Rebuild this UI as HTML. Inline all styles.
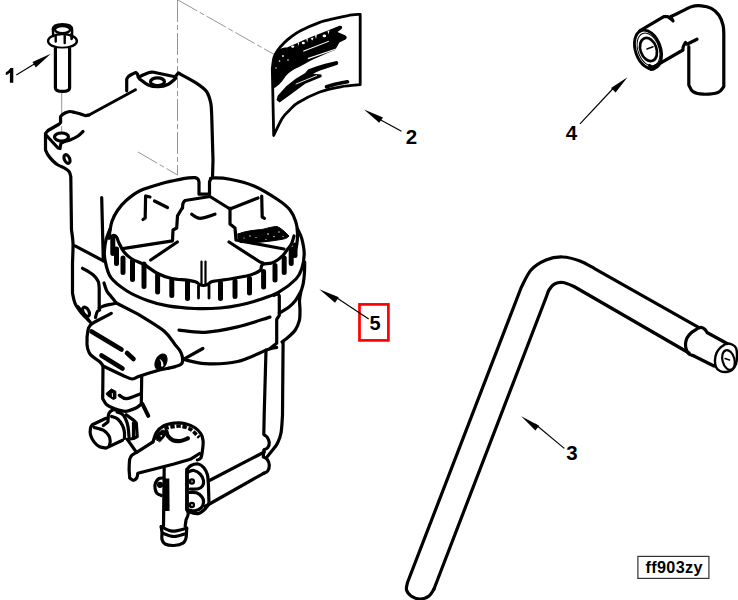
<!DOCTYPE html>
<html><head><meta charset="utf-8">
<style>
html,body{margin:0;padding:0;background:#fff;}
body{width:738px;height:600px;overflow:hidden;position:relative;}
svg{position:absolute;left:0;top:0;}
.t{font-family:"Liberation Sans",sans-serif;font-weight:bold;fill:#000;}
</style></head><body>
<svg width="738" height="600" viewBox="0 0 738 600">
<!-- thin dashed construction lines -->
<g fill="none" stroke="#8a8a8a" stroke-width="0.9" stroke-dasharray="22,3,5,3">
<path d="M177.5,0 L177.5,175"/>
<path d="M178,0 L275,55"/>
<path d="M138,152 L177.5,175"/>
<path d="M61.7,93 L61.7,132"/>
</g>
<g fill="none" stroke="#000" stroke-width="3.2" stroke-linecap="round" stroke-linejoin="round">
<!-- BOLT part 1 -->
<g stroke-width="2.4">
<ellipse cx="62.5" cy="29.6" rx="7.6" ry="3.6"/>
<path d="M52.9,29.5 C53,25.5 58,24.2 62.5,24.2 C67,24.2 72,25.5 72.1,29.5 L72.1,38"/>
<path d="M52.9,29.5 L53.2,36"/>
<ellipse cx="62.5" cy="41" rx="14.4" ry="6.9"/>
</g>
<path d="M55.7,36.5 v5 M64.7,36 v7 M71.5,34 v5" stroke-width="2.4"/>
<path d="M55.4,48.5 L55.4,88 C55.4,92.5 69.6,92.5 69.6,88 L69.6,48.5" fill="#fff"/>


<!-- BRACKET -->
<path d="M135.5,89.7 L89.0,115.0" stroke-width="2.9"/>
<path d="M89.0,115.0  C88.3,115.1 86.7,115.8 85.0,115.5 C83.3,115.2 80.7,114.0 79.0,113.5 C77.3,113.0 76.5,112.8 75.0,112.5 C73.5,112.2 71.7,111.4 70.0,111.5 C68.3,111.6 66.5,112.2 65.0,113.0 C63.5,113.8 61.8,115.0 61.0,116.0 C60.2,117.0 60.6,117.9 60.5,119.0 C60.4,120.1 60.8,121.6 60.5,122.5 C60.2,123.4 58.8,124.2 58.5,124.5 L48.0,130.5 L45.5,133.5 L45.5,150.0 C45.9,150.8 46.8,153.2 48.0,155.0 C49.2,156.8 51.3,159.3 53.0,161.0 C54.7,162.7 56.0,163.8 58.0,165.0 C60.0,166.2 63.1,167.2 65.0,168.3 C66.9,169.4 68.2,170.3 69.2,171.7 C70.2,173.1 70.5,175.9 70.8,176.7 L71.5,230.0 C71.8,232.2 72.8,237.5 73.0,243.0 C73.2,248.5 72.6,259.7 72.5,263.0 L72.5,293.0 C72.9,294.7 73.5,299.9 75.0,303.3 C76.5,306.7 79.5,310.5 81.7,313.3 C83.9,316.1 87.2,318.9 88.3,320.0"/>
<path d="M126.7,90.8 L126.7,79.2 C127.0,78.8 127.5,77.5 128.3,76.7 C129.1,75.9 130.2,75.2 131.5,74.5 C132.8,73.8 135.1,72.8 135.8,72.5 C136.1,72.8 137.1,73.4 137.5,74.2 C137.9,75.0 138.2,77.0 138.3,77.5 C139.1,77.1 141.2,75.8 143.0,75.0 C144.8,74.2 147.6,73.0 149.2,72.5 C150.8,72.0 151.9,72.1 152.5,72.0 L175.0,76.7 L178.3,73.0 C181.4,74.7 192.0,80.2 196.7,83.3 C201.4,86.4 204.3,88.4 206.7,91.7 C209.0,95.0 210.0,99.4 210.8,103.3 C211.6,107.2 211.5,113.0 211.7,115.0 L213.0,160.0 L212.5,178.0"/>
<path d="M139.5,79.0 C141.0,80.0 145.2,83.7 148.3,85.0 C151.4,86.3 155.0,86.8 158.3,86.7 C161.6,86.6 165.4,85.6 168.3,84.2 C171.2,82.8 174.6,79.3 175.8,78.3"/>
<ellipse cx="157.5" cy="81.7" rx="7" ry="3.8"/>
<path d="M46.0,135.0 L58.0,148.0 L60.0,148.5 L61.0,143.0 C61.7,142.8 63.5,142.0 65.0,141.5 C66.5,141.0 67.8,140.9 70.0,140.0 C72.2,139.1 75.8,137.4 78.0,136.0 C80.2,134.6 82.2,132.2 83.0,131.5"/>
<ellipse cx="61.5" cy="137" rx="7" ry="4"/>
<ellipse cx="67" cy="159" rx="2.6" ry="4.6" transform="rotate(-25 67 159)"/>
<path d="M75.0,245.8 L103.3,260.8"/>
<path d="M101.7,197.5 L103.3,260.8"/>
<path d="M82.5,268.3 C84.3,269.4 90.7,272.8 93.3,275.0 C95.9,277.2 97.3,279.5 98.3,281.7 C99.3,283.9 99.0,287.2 99.2,288.3 L99.2,308.3"/>

<!-- DIAL face -->
<path d="M109.0,238.0 C109.2,236.8 109.5,233.5 110.0,230.7 C110.5,227.9 110.8,224.6 112.0,221.3 C113.2,218.0 114.8,214.2 117.3,210.7 C119.8,207.1 122.9,203.3 126.7,200.0 C130.5,196.7 134.4,193.4 140.0,190.7 C145.6,188.0 154.7,185.6 160.0,184.0 C165.3,182.4 167.8,181.9 172.0,181.0 C176.2,180.1 181.2,178.9 185.0,178.3 C188.8,177.7 192.9,177.6 194.5,177.5 C195.1,177.7 197.1,178.1 197.8,178.8 C198.6,179.6 198.8,181.5 199.0,182.0 L199.0,194.2 L209.5,194.2 L209.5,182.0 C209.7,181.6 210.0,180.2 210.5,179.5 C211.0,178.8 209.2,178.1 212.5,178.0 C215.8,177.9 223.1,177.9 230.0,179.2 C236.9,180.5 245.9,182.5 254.0,186.0 C262.1,189.5 272.3,196.0 278.3,200.0 C284.3,204.0 287.1,206.4 290.0,210.0 C292.9,213.6 294.6,217.8 295.8,221.7 C297.1,225.6 297.4,229.4 297.5,233.3 C297.6,237.2 297.3,241.4 296.7,245.0 C296.1,248.6 294.4,253.3 294.0,255.0"/>
<!-- outer ring lower edge -->
<path d="M110.0,229.0 C109.3,230.8 106.9,236.5 106.0,240.0 C105.1,243.5 104.7,246.7 104.5,250.0 C104.3,253.3 104.0,255.4 105.0,260.0 C106.0,264.6 107.1,272.2 110.8,277.4 C114.5,282.6 120.9,287.1 127.0,291.0 C133.1,294.9 140.6,298.0 147.4,300.5 C154.2,303.0 160.0,304.6 167.8,305.9 C175.7,307.2 185.8,308.1 194.5,308.5 C203.2,308.9 212.4,308.6 220.0,308.0 C227.6,307.4 233.5,306.4 240.0,305.0 C246.5,303.6 252.7,301.9 259.2,299.8 C265.7,297.7 272.7,295.7 278.8,292.2 C284.9,288.7 292.1,283.0 296.0,279.0 C299.9,275.0 300.6,272.3 302.0,268.0 C303.4,263.7 304.2,258.2 304.2,253.3 C304.1,248.4 302.8,242.4 301.7,238.3 C300.6,234.2 298.2,230.6 297.5,229.0"/>
<!-- slot band upper edge -->
<path d="M109.0,238.0 C109.7,237.6 111.8,235.7 113.0,235.5 C114.2,235.3 115.5,235.8 116.5,237.0 C117.5,238.2 117.8,240.5 119.0,243.0 C120.2,245.5 121.8,249.3 124.0,252.0 C126.2,254.7 128.7,256.9 132.0,259.0 C135.3,261.1 139.7,262.1 144.0,264.5 C148.3,266.9 153.0,271.2 157.6,273.5 C162.2,275.8 166.9,277.4 171.8,278.5 C176.7,279.6 183.0,279.6 187.0,280.2 C191.0,280.8 193.9,281.3 196.0,282.0 C198.1,282.7 198.2,283.9 199.5,284.5 C200.8,285.1 202.2,285.5 203.5,285.5 C204.8,285.5 206.2,285.1 207.5,284.5 C208.8,283.9 209.8,282.6 211.0,282.0 C212.2,281.4 211.8,281.5 215.0,281.0 C218.2,280.5 225.0,279.8 230.0,279.0 C235.0,278.2 241.6,277.0 245.0,276.3 C248.4,275.6 248.6,275.6 250.5,275.0 C252.4,274.4 255.0,273.3 256.7,272.5 C258.4,271.7 260.1,270.4 260.8,270.0 L261.5,266.0 C261.8,265.7 261.6,264.7 263.3,264.2 C265.0,263.7 269.3,263.7 271.7,263.0 C274.1,262.3 275.6,261.3 277.5,260.0 C279.4,258.7 281.5,256.9 283.3,255.0 C285.1,253.1 286.9,250.2 288.3,248.3 C289.7,246.4 290.8,245.6 291.7,243.5 C292.6,241.4 293.6,237.2 294.0,236.0"/>

<!-- slots -->
<path d="M112.8,237.0 V253.5 M116.5,249.0 V263.5 M123.0,258.0 V272.5 M132.5,261.0 V279.5 M144.0,264.0 V286.5 M157.6,275.0 V292.0 M171.8,280.0 V295.5 M187.5,282.5 V298.5 M220.5,283.0 V298.5 M235.0,281.0 V296.5 M249.5,278.5 V293.0 M263.6,271.5 V287.0 M275.0,265.5 V280.0 M284.2,258.0 V272.5 M291.2,249.5 V263.5 M295.0,245.0 V255.5" stroke-width="5.0"/>
<path d="M198.5,285.9 V298.1 M209.0,285.4 V298.1" stroke-width="2.8"/>
<!-- collar band -->
<path d="M104.0,283.0 C104.5,284.3 105.6,288.7 106.8,291.0 C108.0,293.3 109.7,294.7 111.3,296.7 C112.9,298.7 115.5,301.9 116.3,303.0"/>
<path d="M99.2,308.3  C99.9,308.0 101.0,306.9 103.0,306.2 C105.0,305.6 109.1,304.7 111.3,304.2 C113.5,303.7 115.5,303.2 116.3,303.0 L138.0,314.2 C142.3,317.0 157.8,325.9 164.0,331.0 C170.2,336.1 172.6,341.7 175.3,345.0 C178.0,348.3 178.8,348.9 180.0,350.8 C181.2,352.8 181.9,354.8 182.3,356.7 C182.7,358.6 182.7,361.1 182.3,362.5 C181.9,363.9 181.2,364.1 180.0,364.8 C178.8,365.5 177.2,366.0 175.3,366.6 C173.4,367.2 169.5,368.0 168.3,368.3"/>
<path d="M179.0,330.1 C183.3,330.5 195.2,332.8 205.0,332.3 C214.8,331.8 226.8,329.4 237.6,326.9 C248.4,324.4 264.6,318.7 270.0,317.1"/>
<path d="M183.4,359.4 C187.0,360.1 196.0,363.3 205.0,363.7 C214.0,364.1 227.1,363.9 237.6,361.5 C248.1,359.1 261.4,351.9 267.9,349.6 C274.4,347.3 275.2,347.9 276.6,347.5"/>
<path d="M183.4,359.4 L202.9,348.5"/>
<path d="M274.0,295.3 L278.0,293.5 L279.3,296.0 L279.3,315.3 L276.7,319.3 L276.7,343.3 L270.0,348.5"/>
<path d="M279.3,313.0 C280.9,312.1 286.0,309.4 288.7,307.3 C291.4,305.2 293.3,303.2 295.3,300.7 C297.3,298.1 299.6,293.4 300.5,292.0"/>
<path d="M304.7,262.0 C304.7,263.7 304.7,268.4 304.5,272.0 C304.3,275.6 303.9,279.9 303.3,283.3 C302.7,286.8 301.3,289.8 300.7,292.7 C300.1,295.6 299.6,297.8 299.5,300.7 C299.4,303.6 300.0,306.7 300.0,310.0 C300.0,313.3 300.1,317.4 299.3,320.7 C298.5,324.0 297.1,327.3 295.3,330.0 C293.5,332.7 290.9,334.7 288.7,336.7 C286.5,338.7 283.1,341.1 282.0,342.0"/>
<!-- bowl -->
<path d="M266.0,350.0 L264.2,415.0 L263.8,434.5 C264.4,434.9 266.2,435.8 267.1,437.1 C268.0,438.4 269.2,440.8 269.3,442.5 C269.4,444.2 268.6,446.4 267.7,447.6 C266.8,448.9 264.4,449.6 263.8,450.0 L263.3,457.0 C263.9,457.4 266.1,458.0 267.1,459.3 C268.1,460.6 269.2,463.1 269.3,465.0 C269.4,466.9 268.6,469.6 267.7,471.0 C266.8,472.4 264.3,472.9 263.6,473.3"/>
<path d="M283.1,342.0 L282.5,415.0 C282.3,417.9 281.9,427.8 281.1,432.5 C280.3,437.2 279.2,439.9 277.6,443.0 C276.1,446.1 273.7,448.7 271.8,451.1 C269.9,453.5 267.4,456.4 266.5,457.5"/>
<!-- sensor box -->
<path d="M168.3,368.3 L159.6,370.0 C156.3,371.0 144.6,374.5 140.0,376.0 C135.4,377.5 134.7,379.0 132.0,379.0 C129.3,379.0 125.3,376.5 124.0,376.0 L103.0,366.0 C102.5,365.3 102.2,364.0 100.0,362.0 C97.8,360.0 92.2,357.0 90.0,354.0 C87.8,351.0 87.3,348.0 87.0,344.0 C86.7,340.0 87.4,333.2 88.0,330.0 C88.6,326.8 89.5,326.2 90.5,325.0 C91.5,323.8 93.2,322.9 93.8,322.5 L111.3,313.3"/>
<path d="M91.5,331.5 L121.5,349.5 M127,353 L133.5,359 M101.5,355.5 L122.5,368.5" stroke-width="4.6"/>
<ellipse cx="161" cy="362" rx="5.4" ry="8.4" transform="rotate(25 161 362)" fill="#000" stroke-width="1.2"/>
<path d="M159.5,359 C161.5,359.5 163.5,362 163.5,365.5 C163,367 161.5,367 161,366 C161.5,364 161,361 159.5,359 Z" fill="#fff" stroke="none"/>
<ellipse cx="86" cy="311.7" rx="2.8" ry="5" transform="rotate(-30 86 311.7)"/>
<path d="M78.0,306.7 L90.5,322.5"/>
<path d="M95.5,317.5 C95.8,316.5 96.5,312.9 97.2,311.7 C97.9,310.4 99.3,310.3 99.7,310.0"/>
<!-- neck -->
<path d="M103.0,366.0 L102.7,398.7 C103.4,399.7 104.7,403.0 106.7,404.7 C108.7,406.4 111.6,407.6 114.7,408.7 C117.8,409.8 121.8,411.4 125.3,411.3 C128.8,411.2 133.3,409.2 136.0,408.0 C138.7,406.8 140.4,404.7 141.3,404.0 L141.7,376.7"/>
<path d="M119.3,395.3 C120.5,395.9 123.2,398.9 126.7,398.7 C130.2,398.5 137.8,394.8 140.0,394.0"/>
<path d="M106.3,393.3 L111.3,389 L115.9,391.3 L115.9,398.3 L113.4,399.6 L107.6,395.8 Z" fill="#000" stroke-width="1"/>
<path d="M112.3,393.5 L112.5,396.5" stroke="#fff" stroke-width="0.9"/>
<path d="M142.5,404.2 L148.3,415.8" stroke-width="4"/>
<!-- left fitting -->
<path d="M106.0,418.3 L92.3,424.7 C92.0,425.2 90.8,426.3 90.5,428.0 C90.2,429.7 89.9,432.4 90.5,434.8 C91.1,437.2 92.7,440.1 94.2,442.1 C95.7,444.1 97.7,445.7 99.7,446.7 C101.7,447.7 105.0,447.9 106.0,448.1 L122.5,440.3"/>
<path d="M94.2,427.5 C95.7,427.9 100.9,428.8 103.3,430.2 C105.7,431.6 107.6,433.9 108.8,435.7 C110.0,437.5 110.1,439.5 110.2,441.2 C110.3,442.9 109.5,445.0 109.3,445.8"/>
<path d="M103.3,425.6 L107.9,422.0 C108.1,420.6 108.0,415.7 108.8,413.7 C109.6,411.7 111.3,410.6 112.5,410.0 C113.7,409.4 115.5,410.0 116.1,410.0"/>
<path d="M111.6,416.5 C112.7,416.9 116.2,417.7 118.0,419.2 C119.8,420.7 121.4,423.5 122.5,425.6 C123.6,427.7 124.1,429.9 124.4,432.0 C124.7,434.1 124.4,437.4 124.4,438.5"/>
<path d="M117.0,411.9 C117.8,412.2 120.6,412.9 122.0,414.0 C123.4,415.1 124.3,416.2 125.3,418.3 C126.3,420.4 127.4,423.6 128.0,426.6 C128.6,429.7 128.8,434.9 129.0,436.6"/>
<path d="M126.2,414.7 L133.5,420.1 L136.3,422.9 L137.2,436.6 L133.5,438.5 L127.1,439.4"/>
<path d="M133.5,422.9 L133.5,437.5"/>
<path d="M128.0,440.3 L136.3,452.2"/>
<!-- drain valve -->
<path d="M153.0,441.8 C153.6,440.2 154.8,435.1 156.5,432.5 C158.2,429.9 160.6,427.6 163.5,426.0 C166.4,424.4 170.3,423.6 174.0,423.2 C177.7,422.8 182.1,422.9 185.6,423.7 C189.1,424.5 192.5,426.1 195.0,427.8 C197.5,429.5 199.5,431.6 200.8,433.7 C202.2,435.8 202.8,438.0 203.1,440.7 C203.4,443.4 202.9,447.1 202.5,450.0 C202.1,452.9 201.7,456.5 200.8,458.1 C199.9,459.8 197.9,459.6 197.3,459.9"/>
<path d="M166.5,431.8 C166.8,432.5 166.9,434.6 168.0,436.0 C169.1,437.4 170.8,439.4 172.8,440.2 C174.9,441.0 177.8,441.3 180.3,441.0 C182.8,440.7 186.6,438.8 187.9,438.3" stroke-width="4.2"/>
<path d="M164.4,428.6 C165.8,428.3 169.9,427.0 172.8,426.6 C175.7,426.2 178.9,425.8 181.9,426.3 C184.9,426.8 188.5,428.1 191.0,429.6 C193.5,431.1 195.6,433.9 197.0,435.2 C198.4,436.5 198.9,437.1 199.3,437.5" stroke-width="3.6" stroke-dasharray="4.5,1.6" stroke-linecap="butt"/>
<path d="M155.5,439 C156,434.5 159,431.5 163,430 L166.5,432 C165.5,435.5 163.5,438.5 160,441.5 Z" fill="#000" stroke-width="1"/>
<circle cx="161.3" cy="435.8" r="0.9" fill="#fff" stroke="none"/>
<path d="M153.0,441.8 L136.7,452.3 C135.9,452.8 133.2,454.0 132.0,455.2 C130.8,456.4 130.2,456.9 129.7,459.3 C129.2,461.7 129.2,468.1 129.1,469.8 L129.7,478.0 C130.3,478.4 132.0,480.3 133.2,480.3 C134.4,480.3 135.9,479.2 136.7,478.0 C137.5,476.8 137.6,474.1 137.8,473.3 L174.0,464.0 L190.3,459.3 L199.6,453.5"/>
<path d="M164.2,468.2 L163.5,526.0"/>
<path d="M186.7,471.2 L186.7,509.5 C186.9,510.2 188.3,512.2 188.2,514.0 C188.1,515.8 186.4,519.0 186.0,520.0 L185.2,526.0"/>
<path d="M161.2,526.7 C161.3,527.8 161.9,530.9 162.0,533.0 C162.1,535.1 161.5,537.7 162.0,539.5 C162.5,541.3 163.0,543.0 165.0,544.0 C167.0,545.0 171.0,545.6 174.0,545.5 C177.0,545.4 181.0,544.5 183.0,543.2 C185.0,542.0 185.4,540.5 186.0,538.0 C186.6,535.5 186.6,529.8 186.7,528.2"/>
<path d="M161.2,526.7 C163.1,527.5 168.2,531.0 172.5,531.2 C176.8,531.5 184.3,528.7 186.7,528.2"/>
<path d="M163.5,533.5 C165.2,534.0 170.2,536.5 174.0,536.5 C177.8,536.5 184.0,534.0 186.0,533.5"/>
<path d="M164.0,478.0 C163.2,478.1 160.4,477.7 159.0,478.5 C157.6,479.3 156.2,481.4 155.5,483.0 C154.8,484.6 154.8,486.3 155.0,488.0 C155.2,489.7 155.9,492.1 157.0,493.3 C158.1,494.6 160.6,495.1 161.3,495.5"/>
<circle cx="160" cy="484.8" r="1.5"/>
<path d="M167,478.5 L167.3,511" stroke-width="4.6" stroke-linecap="butt"/>
<!-- drain bracket -->
<path d="M187.3,470.0 L187.3,510.0"/>
<path d="M186.8,469.5 C187.5,468.8 189.1,466.4 191.0,465.5 C192.9,464.6 196.2,463.6 198.3,464.0 C200.5,464.4 202.4,465.9 203.9,467.7 C205.4,469.5 206.8,472.2 207.5,475.0 C208.2,477.8 208.2,482.7 208.4,484.2 L209.0,504.0 C208.2,505.0 205.8,508.4 204.0,510.0 C202.2,511.6 200.5,513.2 198.3,513.6 C196.1,514.0 192.8,513.1 191.0,512.5 C189.2,511.9 188.1,510.4 187.5,510.0"/>
<path d="M188.0,472.0 C189.0,471.8 191.8,470.1 193.8,470.5 C195.8,470.9 198.6,472.4 200.2,474.1 C201.8,475.8 203.1,478.5 203.5,480.5 C203.9,482.5 203.4,484.6 202.5,486.0 C201.6,487.4 200.4,488.3 198.3,488.8 C196.2,489.3 191.4,489.0 190.0,489.0"/>
<path d="M188.3,492.5 C189.7,492.6 194.2,492.1 196.5,492.8 C198.8,493.6 200.8,495.4 202.0,497.0 C203.2,498.6 203.7,500.8 203.5,502.6 C203.3,504.4 202.6,506.6 201.1,508.0 C199.6,509.4 196.7,510.5 194.7,510.8 C192.7,511.1 190.1,510.1 189.2,510.0"/>
<circle cx="191.9" cy="481.5" r="2.3" stroke-width="1.8"/>
<circle cx="191.9" cy="505" r="2.3" stroke-width="1.8"/>
<circle cx="191.9" cy="481.5" r="0.6" fill="#000"/>
<circle cx="191.9" cy="505" r="0.6" fill="#000"/>
<path d="M208.5,481.0 L264.3,452.0"/>
<path d="M205.0,506.5 L263.6,473.3"/>

<!-- text blob -->
<path d="M238,234 C245,231 255,230 262,229.5 C268,228 273,226.5 277,226.5 C281,228 285,232 289,236 C287,238.5 284,239 281,239.5 C275,240.5 268,241.5 262,242 C256,242.5 248,243 240,242.5 C238,240 237.5,237 238,234 Z" fill="#000" stroke-width="1"/>
<g fill="#fff" stroke="none"><circle cx="250" cy="236" r="0.7"/><circle cx="256" cy="237.5" r="0.6"/><circle cx="268" cy="234" r="0.8"/><circle cx="274" cy="236.5" r="0.7"/><circle cx="279" cy="232" r="0.7"/><circle cx="266" cy="239.5" r="0.6"/><circle cx="244" cy="238" r="0.6"/><circle cx="283" cy="236.5" r="0.6"/></g>
<!-- hub & spokes -->
<path d="M182.5,208.0  C182.6,207.2 182.6,204.8 183.0,203.5 C183.4,202.2 184.7,201.0 185.0,200.5 L210.0,196.5 L230.0,209.0 L258.0,198.0"/>
<path d="M182.5,207.5 L177.5,215.8 L176.7,228.0 L173.0,230.0 L172.5,240.8 L122.7,248.7"/>
<path d="M230.0,208.0 L230.0,224.0 L235.0,228.0 L236.0,240.0 L284.0,249.0"/>
<path d="M177.3,242.0 L150.7,260.0"/>
<path d="M229.0,242.0 L260.0,262.0 L263.0,263.0"/>
<path d="M191.7,214.2 C193.1,214.9 196.1,218.3 200.0,218.3 C203.9,218.3 212.5,214.9 215.0,214.2"/>
<path d="M201.5,261.5 L201.5,285 M205.5,261.5 L205.5,285" stroke-width="2.2"/>
<path d="M145.6,196 L145.2,218 L143,219.5 M145.8,196 L150,197 M154.5,201 L167.5,207.5"/>
<path d="M261.7,196 L262.2,217 L264.5,218.3"/>


<!-- LABEL part 2 -->
<path d="M360.2,14.3 C358.2,14.5 352.0,14.9 348.0,15.6 C344.0,16.2 340.8,17.0 336.0,18.2 C331.2,19.4 325.0,20.5 319.1,22.6 C313.2,24.7 305.2,28.4 300.5,30.8 C295.8,33.2 293.8,35.0 291.0,37.0 C288.2,39.0 286.2,40.8 284.0,43.0 C281.8,45.2 279.2,48.1 277.5,50.5 C275.8,52.9 274.9,54.5 274.0,57.5 C273.1,60.5 272.6,66.6 272.3,68.4 L273.7,135.5 C275.1,132.6 279.6,122.5 282.3,118.2 C285.0,114.0 287.2,112.5 289.7,110.0 C292.2,107.5 292.6,106.0 297.5,103.0 C302.4,100.0 311.9,94.9 319.1,92.2 C326.3,89.5 334.0,88.0 340.8,86.8 C347.6,85.5 357.0,85.0 360.2,84.7 L360.2,14.3" stroke-width="2.8"/>
<path d="M272.3,89 L272.3,64 C272.8,58 275,53.5 278.5,50 C281,48 284,47.5 287,47.5 L296.2,43.5 L305,39.5 L313.8,36 L322.6,32.5 L331.5,29 L339.5,25.8 C342,25.5 343,27 341.5,29 L337.5,32 L344.5,35 C347,36 347.5,38 345.5,39.5 L339.4,42.5 L335.2,50 C325,54 311.4,59.8 300.5,66.3 C292,70 287,74 284.3,78.2 C281,83 277,87 272.3,89 Z" fill="#000" stroke="none"/>
<g fill="#fff" stroke="none">
<path d="M307.7,57.9 L335.9,48.6 L335.5,49.8 L308,59.2 Z"/>
<path d="M303,50.8 L328.8,40.8 L328.8,41.8 L303.5,51.8 Z"/>
<ellipse cx="292.7" cy="46.6" rx="1.6" ry="1.2"/>
<ellipse cx="303.3" cy="43" rx="1.6" ry="1.2"/>
<ellipse cx="324.4" cy="35.9" rx="1.8" ry="1.3"/>
<path d="M310.5,38.5 L313.5,37.6 L312.5,40.5 Z"/>
<path d="M297.6,42.9 L299.2,42.3 L298.6,46 Z M306.2,39 L308,38.3 L307.2,42.5 Z M315,35.5 L316.8,34.8 L316,39 Z M327.5,31 L329.5,30.2 L328.4,34.5 Z"/>
<circle cx="283" cy="56" r="0.9"/><circle cx="279.5" cy="61" r="0.8"/><circle cx="288" cy="60" r="0.8"/><circle cx="276" cy="68" r="0.7"/>
</g>
<path d="M276.5,100 L277.7,95.8 L286.2,86.3 L295.7,78.7 L305.2,73 L308,69.5 L316,66.5 L325,63.8 L336.5,61 C338.5,61.5 338.5,63.5 337.5,64.8 L330,67.3 L320,70.5 L313,73.8 L321.5,74.6 L321.5,77 L305.2,83.8 L291,94.2 L279.6,102.6 Z" fill="#000" stroke="none"/>
<path d="M296,84 L316.6,75.6" stroke="#fff" stroke-width="0.9"/>
<path d="M326.5,86.8 L335,84.3 L342,82.8 L347.5,81.8" stroke-width="3.6"/>

<!-- ELBOW part 4 -->
<ellipse cx="648" cy="49.5" rx="12.5" ry="20" transform="rotate(-19.5 648 49.5)" stroke-width="2.9"/>
<ellipse cx="648.5" cy="49.5" rx="10.5" ry="17" transform="rotate(-19.5 648.5 49.5)" stroke-width="1"/>
<ellipse cx="648.5" cy="49.5" rx="8" ry="12" transform="rotate(-19.5 648.5 49.5)" stroke-width="2.7"/>
<path d="M647,49 L653,46.7" stroke-width="1.5"/>
<path d="M639.7,30.8 L663.8,16.7 L668.0,16.7 C668.5,17.1 670.2,18.3 671.0,19.0 C671.8,19.7 672.7,20.5 673.0,20.8 L670.5,16.7 C671.8,16.1 674.5,15.0 678.0,13.3 C681.5,11.6 687.4,8.0 691.3,6.7 C695.2,5.5 698.0,5.5 701.3,5.8 C704.6,6.1 708.4,6.8 711.3,8.3 C714.2,9.8 716.8,12.2 718.8,15.0 C720.8,17.8 722.2,21.9 723.0,25.0 C723.8,28.1 723.7,31.9 723.8,33.3 L723.8,86.7 C722.8,87.7 721.5,91.2 718.0,92.5 C714.5,93.8 707.2,94.3 703.0,94.2 C698.8,94.1 695.4,93.2 693.0,91.7 C690.6,90.2 689.5,86.1 688.8,85.0 L688.8,46.7"/>
<path d="M685.5,42.5 C685.2,43.1 683.9,45.0 683.5,46.0 C683.1,47.0 683.1,47.9 683.0,48.3"/>
<path d="M687.0,44.2 L697.0,39.2"/>
<path d="M651.3,68.3 L683.0,50.0"/>
<path d="M649.5,65.5 L653.5,69 L651,69.5 Z" fill="#000"/>

<!-- HOSE END FITTING -->
<path d="M697.0,329.0 C696.0,329.7 692.7,331.5 691.0,333.0 C689.3,334.5 687.9,336.2 687.0,338.0 C686.1,339.8 685.6,342.0 685.5,344.0 C685.4,346.0 685.9,348.3 686.5,350.0 C687.1,351.7 687.9,353.1 689.0,354.0 C690.1,354.9 692.3,355.2 693.0,355.5"/>
<path d="M698.0,328.0 C698.6,327.9 700.3,327.2 701.5,327.5 C702.7,327.8 704.1,328.7 705.0,329.5 C705.9,330.3 706.7,332.0 707.0,332.5 L727.0,343.5"/>
<path d="M693.0,355.5 L714.0,366.0"/>
<path d="M724.0,345.0 C724.5,344.8 725.7,343.6 727.0,343.5 C728.3,343.4 730.5,343.8 732.0,344.5 C733.5,345.2 735.2,346.2 736.0,348.0 C736.8,349.8 737.0,352.3 737.0,355.0 C737.0,357.7 736.8,361.5 736.0,364.0 C735.2,366.5 733.7,368.7 732.0,370.0 C730.3,371.3 728.0,371.8 726.0,372.0 C724.0,372.2 721.7,371.8 720.0,371.0 C718.3,370.2 716.8,368.8 716.0,367.0 C715.2,365.2 714.9,362.3 715.0,360.0 C715.1,357.7 715.7,355.0 716.5,353.0 C717.3,351.0 718.8,349.3 720.0,348.0 C721.2,346.7 723.3,345.5 724.0,345.0" stroke-width="2.4"/>
<ellipse cx="728.5" cy="360" rx="6" ry="10" transform="rotate(-15 728.5 360)" stroke-width="2.2"/>
<path d="M725,358.5 L729.5,360" stroke-width="1.5"/>

<!-- HOSE part 3 -->
<path d="M699.0,327.6 L595.0,268.8 C592.5,267.5 585.4,263.0 580.0,261.0 C574.6,259.0 568.2,257.2 562.5,257.0 C556.8,256.8 551.2,257.8 546.0,260.0 C540.8,262.2 535.1,265.4 531.0,270.0 C526.9,274.6 522.9,284.6 521.2,287.5 L407.5,582.5 C407.3,583.8 405.9,587.8 406.5,590.0 C407.1,592.2 408.8,594.5 411.0,596.0 C413.2,597.5 417.0,599.0 420.0,599.0 C423.0,599.0 426.7,597.7 429.0,596.0 C431.3,594.3 433.2,590.2 434.0,589.0"/>
<path d="M689.0,353.0 L574.0,286.5 C572.2,285.8 566.2,282.9 563.0,282.5 C559.8,282.1 556.8,282.8 554.5,284.0 C552.2,285.2 550.2,288.2 549.0,290.0 C547.8,291.8 547.3,294.2 547.0,295.0 L434.0,589.0"/>
</g>

<!-- red box -->
<rect x="359.5" y="304.4" width="28.9" height="36" fill="none" stroke="#f00" stroke-width="2.7"/>
<!-- arrows -->
<g stroke="#000" stroke-width="1.15" fill="none">
<path d="M16.3,75 L40,60.5"/>
<path d="M401.5,131.3 L378,118.5"/>
<path d="M564.3,448.4 L535,424"/>
<path d="M580,123.8 L614,87.5"/>
<path d="M368.7,319 L334,296"/>
</g>
<g fill="#000" stroke="none">
<path d="M50.8,53.75 L32.5,62.1 L35.8,67.5 Z"/>
<path d="M364,109.5 L383,117.6 L379.2,122.8 Z"/>
<path d="M521.2,416.2 L539.2,425.7 L535.4,430.4 Z"/>
<path d="M627.5,77.25 L611,88.1 L615.6,92.5 Z"/>
<path d="M319.3,289.2 L338.8,297.3 L335,302.8 Z"/>
</g>
<!-- labels -->
<g class="t" font-size="20.5">
<text x="405.7" y="144.1">2</text>
<text x="566.3" y="460.3">3</text>
<text x="565.8" y="140">4</text>
<text x="369.5" y="330.1" font-size="20">5</text>
</g>
<rect x="637.9" y="556.4" width="71" height="22" fill="#fff" stroke="#333" stroke-width="1.2"/>
<text class="t" x="645.5" y="572.5" font-size="16.2" textLength="57" lengthAdjust="spacing">ff903zy</text>
<path d="M10.4,67.9 L13.3,67.9 L13.3,82.7 L9.9,82.7 L9.9,72.8 C8.7,73.9 7.3,74.7 5.8,75.3 L5.8,72.3 C7.8,71.3 9.4,69.8 10.4,67.9 Z" fill="#000"/>
</svg>
</body></html>
